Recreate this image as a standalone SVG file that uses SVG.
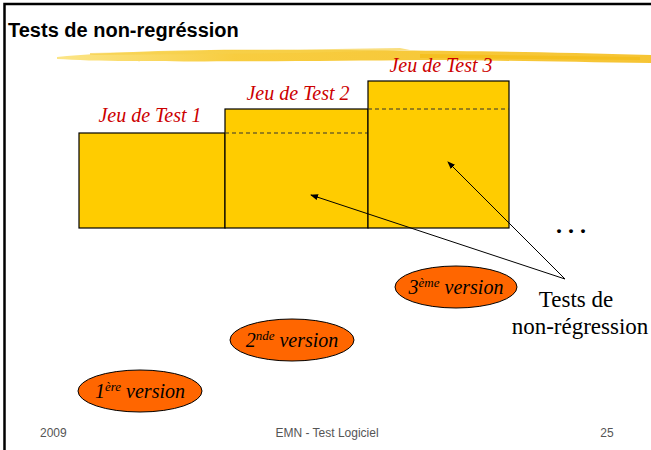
<svg xmlns="http://www.w3.org/2000/svg" width="651" height="450" viewBox="0 0 651 450">
<style>
.box{fill:#FFCC00;stroke:#000;stroke-width:1.2}
.dash{stroke:#333;stroke-width:1.2;stroke-dasharray:4,3;fill:none}
.jeu{font-family:"Liberation Serif",serif;font-style:italic;font-size:20px;fill:#CC0000}
.ver{fill:#FF6600;stroke:#000;stroke-width:1}
.vt{font-family:"Liberation Serif",serif;font-style:italic;font-size:20px;fill:#000}
.sup{font-size:13px}
.foot{font-family:"Liberation Sans",sans-serif;font-size:12px;fill:#555}
.conn{stroke:#000;stroke-width:1;fill:none;marker-end:url(#ah)}
.big{font-family:"Liberation Serif",serif;font-size:23px;fill:#000}
</style>
<defs>
<marker id="ah" markerWidth="8" markerHeight="6" refX="7" refY="3" orient="auto" markerUnits="userSpaceOnUse">
<path d="M0,0 L8,3 L0,6 z" fill="#000"/>
</marker>
<linearGradient id="brush" x1="0" y1="0" x2="1" y2="0">
<stop offset="0" stop-color="#FBE27A"/>
<stop offset="0.3" stop-color="#F7C72A"/>
<stop offset="1" stop-color="#F5BE1E"/>
</linearGradient>
</defs>
<rect x="0" y="0" width="651" height="450" fill="#fff"/>
<path d="M4.5,450 V4 H651" fill="none" stroke="#000" stroke-width="2.5"/>
<text x="8" y="37" font-family="'Liberation Sans',sans-serif" font-weight="bold" font-size="20" fill="#000">Tests de non-regréssion</text>
<g id="brush-stroke">
<path d="M57,57 C120,51 200,49 300,50 C400,50 500,51 651,55 L651,63 C560,62 480,60 420,60 C330,61 200,62 130,61 C100,61 75,60 57,59 z" fill="url(#brush)" opacity="0.9"/>
<path d="M90,53 L400,48 L410,50 L300,53 L90,55 z" fill="#F7D04A" opacity="0.7"/>
<path d="M420,54 L640,57 L640,60 L420,58 z" fill="#F4BA10" opacity="0.6"/>
</g>
<g id="jeu1">
<rect class="box" x="79" y="133" width="146" height="95"/>
<text class="jeu" x="150" y="122" text-anchor="middle">Jeu de Test 1</text>
</g>
<g id="jeu2">
<rect class="box" x="225" y="109" width="143" height="119"/>
<line class="dash" x1="225" y1="133" x2="368" y2="133"/>
<text class="jeu" x="298" y="100" text-anchor="middle">Jeu de Test 2</text>
</g>
<g id="jeu3">
<rect class="box" x="368" y="81" width="141" height="147"/>
<line class="dash" x1="368" y1="109" x2="509" y2="109"/>
<text class="jeu" x="441" y="72" text-anchor="middle">Jeu de Test 3</text>
</g>
<g id="dots">
<text x="556" y="233" font-family="'Liberation Serif',serif" font-weight="bold" font-size="24" letter-spacing="6" fill="#000">...</text>
</g>
<g id="tests-label">
<text class="big" text-anchor="middle"><tspan x="576" y="307">Tests de</tspan><tspan x="580" y="334">non-régression</tspan></text>
</g>
<g id="connectors">
<line class="conn" x1="565" y1="279" x2="311" y2="195"/>
<line class="conn" x1="565" y1="279" x2="448" y2="162"/>
</g>
<g id="v3">
<ellipse class="ver" cx="456" cy="287" rx="61" ry="21"/>
<text class="vt" x="456" y="294" text-anchor="middle">3<tspan class="sup" dy="-7">ème</tspan><tspan dy="7"> version</tspan></text>
</g>
<g id="v2">
<ellipse class="ver" cx="292" cy="340" rx="62" ry="21"/>
<text class="vt" x="292" y="347" text-anchor="middle">2<tspan class="sup" dy="-7">nde</tspan><tspan dy="7"> version</tspan></text>
</g>
<g id="v1">
<ellipse class="ver" cx="140" cy="391" rx="62" ry="21"/>
<text class="vt" x="140" y="398" text-anchor="middle">1<tspan class="sup" dy="-7">ère</tspan><tspan dy="7"> version</tspan></text>
</g>
<g id="footer">
<text class="foot" x="40" y="437">2009</text>
<text class="foot" x="327" y="437" text-anchor="middle">EMN - Test Logiciel</text>
<text class="foot" x="607" y="437" text-anchor="middle">25</text>
</g>
</svg>
